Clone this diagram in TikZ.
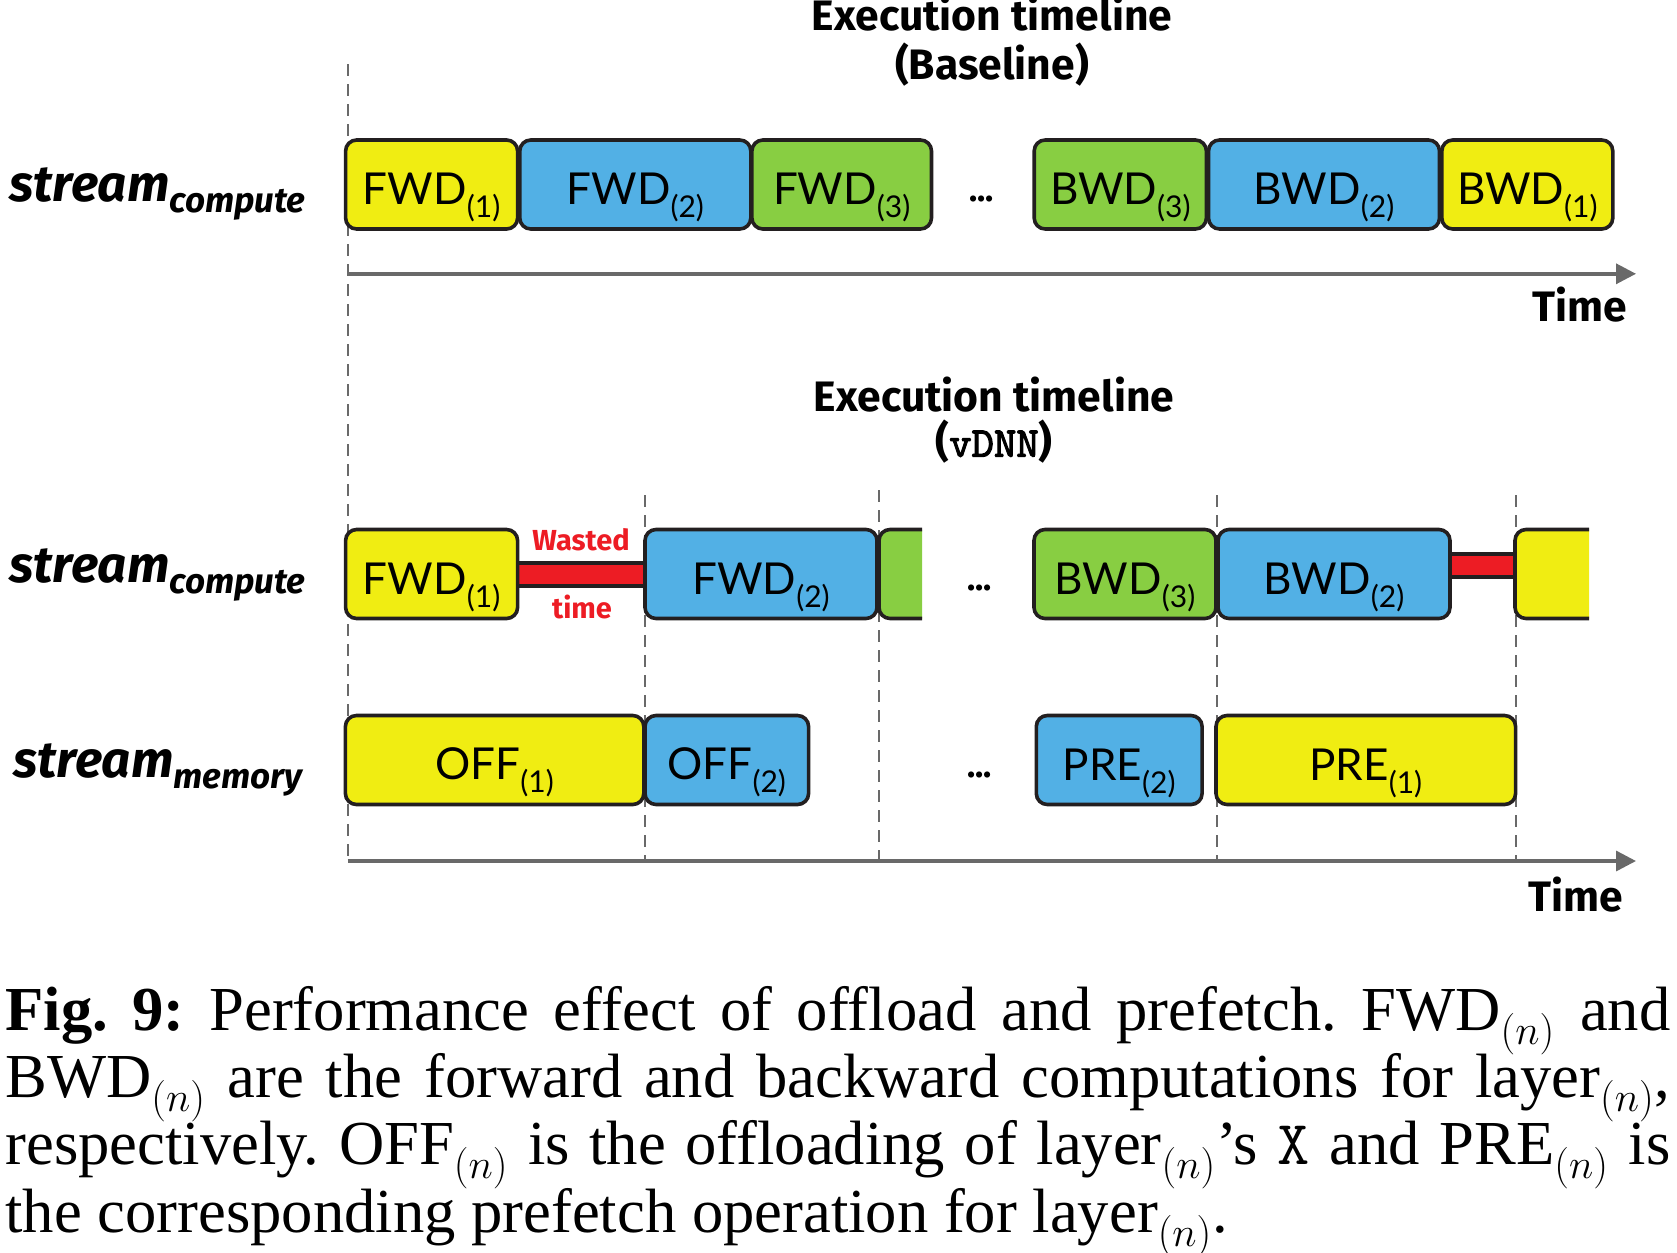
\documentclass[tikz,border=0pt]{standalone}
\usepackage{fontspec}
\setmainfont{Liberation Serif}
\newfontfamily\boxfont{Lato}
\newfontfamily\labfont{Fira Sans}
\newfontfamily\vdnnfont{lmmono10-regular.otf}[FakeBold=2.5]
\usetikzlibrary{arrows.meta}
\pgfdeclarelayer{bg}
\pgfsetlayers{bg,main}
\definecolor{cyel}{RGB}{240,237,18}
\definecolor{cblu}{RGB}{82,176,229}
\definecolor{cgrn}{RGB}{136,206,66}
\definecolor{cred}{RGB}{237,28,36}
\definecolor{cbrd}{RGB}{35,31,32}
\definecolor{cgry}{RGB}{105,105,105}
\newcommand{\blab}[2]{\rule{0pt}{20pt}{\fontsize{22}{22}\selectfont #1}\smash{\raisebox{-6.5pt}{\fontsize{15}{15}\selectfont (#2)}}}
\newcommand{\strm}[1]{{\fontsize{25.5}{25.5}\selectfont stream}\raisebox{-5.5pt}{\fontsize{17.5}{17.5}\selectfont #1}}
\newcommand{\capline}[1]{\makebox[832.5pt][s]{#1}}
\newcommand{\capfont}{\frenchspacing\lineskiplimit=-100pt\lineskip=0pt\fontsize{31.3}{33.6}\selectfont}
\tikzset{
  box/.style={draw=cbrd, line width=1.8pt, rounded corners=5.5pt, inner sep=0pt,
    minimum height=44.5pt, font=\boxfont},
  dotsnode/.style={anchor=base, inner sep=0pt, font=\labfont\bfseries\fontsize{17}{17}\selectfont},
  title/.style={anchor=base, inner sep=0pt, font=\labfont\bfseries\fontsize{21.3}{21.3}\selectfont},
  streamlab/.style={anchor=base west, inner sep=0pt, font=\labfont\bfseries\itshape},
  redlab/.style={anchor=base, inner sep=0pt, text=cred, font=\labfont\bfseries\fontsize{14.5}{14.5}\selectfont},
  guide/.style={draw=cgry, line width=1pt, dash pattern=on 6pt off 4pt},
  axis/.style={draw=cgry, line width=1.7pt, -{Triangle[length=10pt,width=10pt]}},
  waste/.style={draw=cbrd, line width=2pt, double=cred, double distance=9.5pt}
}
\begin{document}
\begin{tikzpicture}[x=0.5pt,y=-0.5pt]
\useasboundingbox (0,0) rectangle (1677,1253);

% titles
\node[title] (t1) at (992,30) {Execution timeline};
\node[title] (t1b) at (992,79) {(Baseline)};
\node[title] (t2) at (994,411.7) {Execution timeline};
\node[title] (t2b) at (994,456.7) {({\vdnnfont vDNN})};
\node[title] (time1) at (1580,321.7) {Time};
\node[title] (time2) at (1576,911.7) {Time};

% stream labels
\node[streamlab] (sc1) at (9,201.7) {\strm{compute}};
\node[streamlab] (sc2) at (9,582.7) {\strm{compute}};
\node[streamlab] (sm) at (13,777.3) {\strm{memory}};

% top row
\node[box, fill=cyel, minimum width=86pt] (fa1) at (431.6,184.5) {\blab{FWD}{1}};
\node[box, fill=cblu, minimum width=115.5pt] (fa2) at (635.3,184.5) {\blab{FWD}{2}};
\node[box, fill=cgrn, minimum width=89.8pt] (fa3) at (841.7,184.5) {\blab{FWD}{3}};
\node[dotsnode] (da) at (981.8,201) {...};
\node[box, fill=cgrn, minimum width=86.1pt] (ba3) at (1120.3,184.5) {\blab{BWD}{3}};
\node[box, fill=cblu, minimum width=115.5pt] (ba2) at (1324,184.5) {\blab{BWD}{2}};
\node[box, fill=cyel, minimum width=85.5pt] (ba1) at (1527.3,184.5) {\blab{BWD}{1}};

% middle row
\node[box, fill=cyel, minimum width=86pt] (fb1) at (431.6,574) {\blab{FWD}{1}};
\node[box, fill=cblu, minimum width=116pt] (fb2) at (761,574) {\blab{FWD}{2}};
\begin{scope}
  \clip (860,500) rectangle (922,650);
  \node[box, fill=cgrn, minimum width=60.5pt] (fb3) at (939.5,574) {};
\end{scope}
\node[dotsnode] (db) at (979.7,590) {...};
\node[box, fill=cgrn, minimum width=91pt] (bb3) at (1125,574) {\blab{BWD}{3}};
\node[box, fill=cblu, minimum width=116pt] (bb2) at (1334,574) {\blab{BWD}{2}};
\begin{scope}
  \clip (1500,500) rectangle (1589,650);
  \node[box, fill=cyel, minimum width=67.5pt] (bb1) at (1582.5,574) {};
\end{scope}
\node[redlab] (w1) at (581,550) {Wasted};
\node[redlab] (w2) at (582,618) {time};

% memory row
\node[box, fill=cyel, minimum width=149.2pt] (of1) at (494.6,760) {\blab{OFF}{1}};
\node[box, fill=cblu, minimum width=81.8pt] (of2) at (726.8,760) {\blab{OFF}{2}};
\node[dotsnode] (dc) at (979.7,777) {...};
\node[box, fill=cblu, minimum width=82.9pt] (pr2) at (1119.2,760) {\blab{PRE}{2}};
\node[box, fill=cyel, minimum width=149.8pt] (pr1) at (1365.8,760) {\blab{PRE}{1}};

% guide and axis coordinates
\coordinate (g0a) at (347.6,64);
\coordinate (g0b) at (347.6,861);
\coordinate (g1a) at (645,495);
\coordinate (g1b) at (645,861);
\coordinate (g2a) at (879,490);
\coordinate (g2b) at (879,861);
\coordinate (g3a) at (1217,495);
\coordinate (g3b) at (1217,861);
\coordinate (g4a) at (1515.5,495);
\coordinate (g4b) at (1515.5,861);
\coordinate (ax1a) at (347.6,273.8);
\coordinate (ax1b) at (1636,273.8);
\coordinate (ax2a) at (347.6,861);
\coordinate (ax2b) at (1636,861);

\begin{pgfonlayer}{bg}
  \draw[guide] (g0a) -- (g0b);
  \draw[guide] (g1a) -- (g1b);
  \draw[guide] (g2a) -- (g2b);
  \draw[guide] (g3a) -- (g3b);
  \draw[guide] (g4a) -- (g4b);
  \draw[waste] (fb1.east) -- (fb2.west);
  \draw[waste] ([yshift=4.5pt]bb2.east) -- ([yshift=4.5pt]bb1.west);
\end{pgfonlayer}
\draw[axis] (ax1a) -- (ax1b);
\draw[axis] (ax2a) -- (ax2b);

% caption
\node[anchor=north west, inner sep=0pt, align=left, font=\capfont] (cap) at (5,986) {%
\capline{\textbf{Fig. 9:} Performance effect of offload and prefetch. FWD$_{(n)}$ and}\\
\capline{BWD$_{(n)}$ are the forward and backward computations for layer$_{(n)}$,}\\
\capline{respectively. OFF$_{(n)}$ is the offloading of layer$_{(n)}$'s \texttt{X} and PRE$_{(n)}$ is}\\
the corresponding prefetch operation for layer$_{(n)}$.};
\end{tikzpicture}
\end{document}
